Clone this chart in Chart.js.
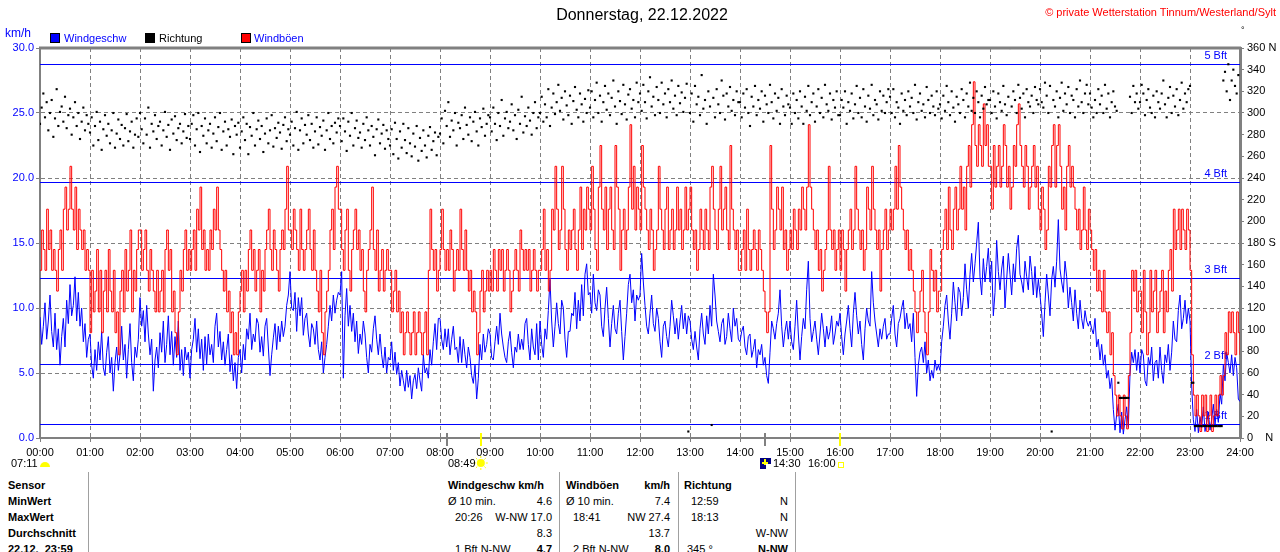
<!DOCTYPE html>
<html>
<head>
<meta charset="utf-8">
<script src="https://cdn.jsdelivr.net/npm/chart.js@4.4.0/dist/chart.umd.min.js"></script>
<style>
  body { margin: 0; width: 1280px; height: 552px; overflow: hidden; background: #fff;
         font-family: "Liberation Sans", Arial, sans-serif; }
  #wrap { position: absolute; left: 0; top: 0; width: 1280px; height: 470px; }
  .t { position: absolute; font-size: 11px; line-height: 14px; white-space: nowrap; transform: translateY(-50%); }
  .b { font-weight: bold; }
  .box { position: absolute; width: 8px; height: 8px; border: 1px solid #000; top: 33px; }
  .sep { position: absolute; top: 472px; width: 1px; height: 80px; background: #a0a0a0; }
</style>
</head>
<body>
<div id="wrap"><canvas id="windChart"></canvas></div>

<div class="t" style="left:0;width:1284px;text-align:center;top:15px;font-size:16px;line-height:18px">Donnerstag, 22.12.2022</div>
<div class="t" style="right:4px;top:12px;color:#ff0000">© private Wetterstation Tinnum/Westerland/Sylt</div>
<div class="t" style="left:1241px;top:30px;font-size:9px">°</div>
<div class="t" style="left:5px;top:33px;color:#0000ff;font-size:12px">km/h</div>

<div class="box" style="left:50px;background:#0000ff"></div>
<div class="t" style="left:64px;top:38px;color:#0000ff">Windgeschw</div>
<div class="box" style="left:145px;background:#000"></div>
<div class="t" style="left:159px;top:38px;color:#000">Richtung</div>
<div class="box" style="left:241px;background:#ff0000"></div>
<div class="t" style="left:254px;top:38px;color:#0000ff">Windböen</div>

<div class="t" style="left:11px;top:463px">07:11</div>
<div class="t" style="left:448px;top:463px">08:49</div>
<div class="t" style="left:773px;top:463px">14:30</div>
<div class="t" style="left:808px;top:463px">16:00</div>

<div class="sep" style="left:88px"></div>
<div class="sep" style="left:559px"></div>
<div class="sep" style="left:678px"></div>
<div class="sep" style="left:795px"></div>

<div class="t b" style="left:8px;top:485px">Sensor</div>
<div class="t b" style="left:8px;top:501px">MinWert</div>
<div class="t b" style="left:8px;top:517px">MaxWert</div>
<div class="t b" style="left:8px;top:533px">Durchschnitt</div>
<div class="t b" style="left:8px;top:549px">22.12.&nbsp; 23:59</div>

<div class="t b" style="left:448px;top:485px">Windgeschw km/h</div>
<div class="t" style="left:448px;top:501px">Ø 10 min.</div>
<div class="t" style="right:728px;top:501px">4.6</div>
<div class="t" style="left:455px;top:517px">20:26</div>
<div class="t" style="right:728px;top:517px">W-NW 17.0</div>
<div class="t" style="right:728px;top:533px">8.3</div>
<div class="t" style="left:455px;top:549px">1 Bft N-NW</div>
<div class="t b" style="right:728px;top:549px">4.7</div>

<div class="t b" style="left:566px;top:485px">Windböen</div>
<div class="t b" style="right:610px;top:485px">km/h</div>
<div class="t" style="left:566px;top:501px">Ø 10 min.</div>
<div class="t" style="right:610px;top:501px">7.4</div>
<div class="t" style="left:573px;top:517px">18:41</div>
<div class="t" style="right:610px;top:517px">NW 27.4</div>
<div class="t" style="right:610px;top:533px">13.7</div>
<div class="t" style="left:573px;top:549px">2 Bft N-NW</div>
<div class="t b" style="right:610px;top:549px">8.0</div>

<div class="t b" style="left:684px;top:485px">Richtung</div>
<div class="t" style="left:691px;top:501px">12:59</div>
<div class="t" style="right:492px;top:501px">N</div>
<div class="t" style="left:691px;top:517px">18:13</div>
<div class="t" style="right:492px;top:517px">N</div>
<div class="t" style="right:492px;top:533px">W-NW</div>
<div class="t" style="left:687px;top:549px">345 °</div>
<div class="t b" style="right:492px;top:549px">N-NW</div>

<script>
// one value every 2 minutes, 00:00 .. 24:00 (30 per hour)
const minuteStep = 2;

const speedValues = [
  9.3, 7.2, 8.6, 10.4, 7.6, 9.0, 11.0, 8.2, 7.0, 9.6, 6.8, 8.4, 5.6, 7.8, 9.2, 7.0, 10.6, 8.8, 11.8, 9.4, 10.2, 12.4, 9.0, 11.2, 8.6, 10.0, 7.4, 8.8, 6.2, 7.6, // 00
  8.0, 5.6, 4.6, 6.8, 5.2, 7.4, 6.0, 8.2, 5.4, 4.8, 6.6, 7.8, 5.0, 6.2, 3.6, 5.8, 7.0, 5.2, 6.4, 8.6, 6.0, 7.2, 4.6, 6.8, 8.8, 5.8, 4.4, 7.0, 6.2, 7.6,     // 01
  10.8, 8.6, 9.8, 7.4, 10.2, 8.0, 6.4, 7.6, 3.6, 6.0, 7.0, 5.4, 8.1, 6.6, 9.0, 5.8, 7.2, 9.4, 6.4, 8.2, 5.6, 7.8, 6.2, 9.0, 5.2, 6.8, 4.8, 7.0, 6.0, 6.6,  // 02
  4.6, 6.8, 7.6, 9.2, 6.6, 8.4, 6.1, 7.6, 5.2, 7.8, 5.7, 8.0, 6.4, 7.2, 5.8, 8.6, 9.6, 7.0, 8.2, 6.0, 7.4, 5.6, 6.8, 8.0, 5.1, 6.4, 4.4, 5.8, 3.8, 6.2,     // 03
  6.8, 5.0, 7.2, 6.0, 8.4, 7.6, 9.6, 6.8, 8.0, 7.4, 9.2, 8.8, 6.6, 7.8, 6.3, 8.6, 9.2, 7.0, 4.8, 6.4, 7.7, 8.8, 6.8, 8.6, 7.4, 9.0, 7.8, 8.6, 10.2, 11.0,   // 04
  12.8, 10.0, 9.8, 11.2, 8.2, 10.8, 9.4, 10.8, 7.9, 9.2, 9.6, 8.0, 7.0, 8.8, 8.4, 7.2, 9.0, 6.8, 6.0, 7.4, 5.0, 6.2, 7.2, 8.6, 10.2, 9.0, 11.0, 9.6, 10.6, 11.2, // 05
  11.0, 12.8, 4.6, 9.4, 11.5, 8.6, 10.2, 8.2, 9.6, 7.4, 9.0, 6.5, 8.0, 7.2, 9.0, 8.0, 6.2, 5.0, 7.2, 6.6, 8.4, 9.4, 7.6, 6.4, 8.0, 6.4, 5.4, 7.0, 5.0, 6.2, // 06
  6.0, 7.4, 5.2, 6.6, 4.9, 5.8, 4.0, 5.2, 4.4, 3.6, 5.2, 3.9, 4.8, 3.0, 4.4, 4.9, 3.8, 5.4, 4.4, 3.6, 6.4, 5.0, 5.4, 4.6, 6.8, 5.6, 7.4, 8.8, 6.8, 9.2,     // 07
  9.2, 7.6, 6.8, 8.4, 7.0, 8.4, 6.4, 7.6, 8.6, 6.8, 7.0, 5.8, 7.8, 5.8, 7.6, 6.4, 5.4, 7.0, 6.2, 4.8, 4.2, 5.6, 3.0, 4.6, 7.2, 6.0, 8.0, 6.6, 7.2, 8.4,     // 08
  8.0, 6.2, 6.0, 7.4, 8.6, 7.2, 9.6, 8.0, 7.0, 6.2, 5.8, 7.4, 8.2, 6.6, 5.4, 7.0, 6.6, 8.0, 6.8, 7.6, 6.8, 8.8, 9.2, 7.2, 6.0, 8.4, 7.0, 6.4, 8.8, 6.0,     // 09
  9.0, 7.2, 6.2, 8.4, 7.6, 9.8, 12.2, 9.0, 7.0, 8.6, 10.4, 8.8, 8.0, 10.6, 10.0, 7.6, 6.2, 8.2, 8.2, 9.6, 9.4, 11.2, 8.4, 10.6, 9.0, 11.8, 9.4, 12.6, 13.4, 11.0, // 10
  11.2, 9.6, 12.6, 10.4, 9.8, 11.4, 11.0, 8.6, 7.8, 10.0, 11.6, 9.2, 7.0, 8.8, 10.2, 8.4, 8.0, 9.6, 10.6, 8.2, 6.0, 7.8, 9.6, 11.8, 12.6, 10.4, 11.4, 9.0, 11.0, 10.6, // 11
  11.0, 14.2, 12.0, 10.2, 8.6, 8.0, 9.6, 11.0, 8.8, 8.2, 10.0, 9.2, 7.4, 6.2, 8.6, 9.0, 7.8, 7.0, 8.6, 10.6, 9.4, 8.0, 9.2, 7.6, 9.0, 10.2, 8.4, 9.6, 8.0, 9.4, // 12
  9.0, 7.6, 6.8, 8.2, 7.0, 6.0, 8.4, 9.6, 8.0, 7.2, 9.4, 8.0, 10.2, 8.6, 12.6, 11.0, 9.0, 8.2, 7.4, 8.8, 9.2, 7.2, 7.8, 9.6, 8.4, 7.4, 10.0, 8.6, 9.2, 7.6, // 13
  7.4, 8.2, 8.6, 7.0, 6.4, 7.8, 8.0, 6.2, 6.8, 7.6, 5.4, 6.8, 6.4, 7.2, 5.6, 6.2, 4.8, 4.2, 6.6, 9.0, 8.4, 7.6, 8.8, 9.6, 11.4, 8.6, 7.0, 8.2, 9.0, 7.6,     // 14
  9.0, 7.4, 6.8, 8.6, 10.6, 8.0, 6.0, 7.8, 9.2, 8.4, 11.4, 13.6, 9.2, 7.4, 8.2, 9.0, 7.6, 6.4, 8.0, 9.6, 8.4, 7.0, 8.6, 7.6, 8.2, 9.4, 7.2, 8.0, 9.0, 8.6,  // 15
  9.6, 7.8, 6.4, 8.0, 9.0, 10.2, 8.4, 7.0, 9.6, 11.2, 9.4, 8.0, 9.0, 7.2, 6.0, 8.4, 10.0, 9.0, 8.6, 12.8, 10.4, 9.0, 8.0, 7.0, 8.4, 7.6, 8.6, 9.2, 7.6, 8.0, // 16
  8.0, 9.2, 10.2, 8.0, 7.0, 8.8, 9.2, 10.0, 10.6, 8.4, 9.6, 8.4, 8.8, 7.4, 9.6, 6.2, 3.2, 5.6, 6.6, 7.0, 5.8, 7.4, 5.0, 6.0, 4.4, 5.2, 4.6, 6.0, 5.2, 5.6,  // 17
  5.2, 7.4, 8.6, 10.2, 11.0, 9.0, 7.6, 9.6, 12.0, 10.4, 9.0, 11.6, 11.2, 9.4, 10.8, 13.4, 11.4, 10.0, 12.6, 14.2, 12.0, 13.4, 15.0, 16.6, 12.4, 11.0, 13.8, 12.0, 13.2, 14.6, // 18
  12.0, 13.6, 9.4, 11.2, 15.2, 12.8, 11.4, 13.0, 14.0, 10.0, 12.2, 14.2, 12.6, 11.0, 13.4, 12.0, 14.6, 15.6, 12.6, 12.0, 11.2, 13.6, 12.4, 11.4, 14.0, 12.8, 11.0, 13.2, 10.8, 12.2, // 19
  11.0, 9.6, 7.8, 10.4, 12.6, 11.0, 9.4, 12.2, 13.2, 11.6, 13.6, 16.8, 13.0, 12.0, 11.2, 13.6, 12.4, 10.0, 11.6, 10.4, 9.0, 11.4, 9.6, 8.4, 10.6, 9.2, 8.4, 9.8, 9.0, 8.6, // 20
  9.0, 8.4, 8.0, 9.2, 7.0, 7.6, 6.0, 7.2, 5.6, 6.4, 4.6, 5.2, 3.8, 4.6, 2.2, 0.6, 1.8, 2.6, 0.4, 2.0, 0.3, 1.4, 2.4, 0.8, 4.9, 6.6, 5.8, 6.8, 5.2, 6.6,     // 21
  5.0, 6.8, 6.4, 4.4, 4.0, 6.2, 5.6, 7.0, 4.4, 5.8, 6.0, 4.6, 7.0, 5.2, 4.2, 6.4, 5.8, 7.2, 5.2, 6.6, 9.0, 7.6, 7.4, 9.8, 11.0, 8.4, 9.2, 10.6, 8.8, 10.0,   // 22
  9.0, 4.0, 1.4, 0.5, 2.2, 0.4, 1.6, 0.8, 2.4, 0.5, 1.2, 2.0, 0.6, 1.4, 2.6, 1.0, 2.2, 1.2, 3.4, 2.6, 5.6, 4.4, 6.6, 5.8, 5.0, 6.4, 4.8, 6.2, 5.4, 3.0,     // 23
  2.8
];

const gustValues = [
  12.9, 16.0, 14.5, 12.9, 17.6, 14.5, 16.0, 12.9, 14.5, 12.9, 11.3, 14.5, 16.0, 12.9, 17.6, 19.3, 16.0, 17.6, 20.9, 17.6, 16.0, 19.3, 14.5, 17.6, 16.0, 14.5, 16.0, 12.9, 14.5, 12.9, // 00
  8.1, 12.9, 9.7, 11.3, 14.5, 9.7, 12.9, 8.1, 11.3, 12.9, 9.7, 14.5, 11.3, 9.7, 12.9, 8.1, 9.7, 6.4, 11.3, 12.9, 9.7, 14.5, 11.3, 12.9, 16.0, 9.7, 12.9, 11.3, 14.5, 16.0,          // 01
  16.0, 12.9, 14.5, 16.0, 12.9, 11.3, 14.5, 12.9, 11.3, 9.7, 12.9, 9.7, 11.3, 12.9, 9.7, 14.5, 16.0, 12.9, 14.5, 9.7, 11.3, 8.1, 6.4, 9.7, 12.9, 11.3, 14.5, 16.0, 12.9, 14.5,     // 02
  12.9, 14.5, 16.0, 12.9, 17.6, 16.0, 19.3, 14.5, 16.0, 12.9, 14.5, 12.9, 16.0, 14.5, 17.6, 16.0, 19.3, 16.0, 14.5, 12.9, 11.3, 12.9, 9.7, 11.3, 8.1, 9.7, 6.4, 8.1, 6.4, 9.7,     // 03
  11.3, 12.9, 9.7, 12.9, 11.3, 14.5, 16.0, 12.9, 14.5, 11.3, 12.9, 14.5, 9.7, 12.9, 11.3, 14.5, 16.0, 17.6, 14.5, 12.9, 16.0, 14.5, 12.9, 11.3, 14.5, 16.0, 14.5, 17.6, 20.9, 16.0, // 04
  16.0, 14.5, 17.6, 16.0, 14.5, 12.9, 17.6, 14.5, 12.9, 14.5, 16.0, 17.6, 14.5, 12.9, 16.0, 12.9, 11.3, 9.7, 12.9, 8.1, 6.4, 9.7, 11.3, 12.9, 16.0, 17.6, 14.5, 19.3, 20.9, 17.6, // 05
  17.6, 14.5, 12.9, 16.0, 17.6, 12.9, 11.3, 14.5, 16.0, 17.6, 14.5, 16.0, 12.9, 14.5, 11.3, 9.7, 12.9, 14.5, 16.0, 19.3, 14.5, 12.9, 16.0, 11.3, 12.9, 14.5, 11.3, 12.9, 14.5, 12.9, // 06
  12.9, 9.7, 11.3, 12.9, 9.7, 11.3, 8.1, 9.7, 6.4, 8.1, 9.7, 8.1, 6.4, 8.1, 9.7, 6.4, 8.1, 9.7, 8.1, 6.4, 8.1, 9.7, 6.4, 12.9, 17.6, 14.5, 12.9, 14.5, 11.3, 12.9,               // 07
  14.5, 17.6, 14.5, 12.9, 14.5, 12.9, 16.0, 14.5, 11.3, 12.9, 14.5, 12.9, 17.6, 14.5, 12.9, 16.0, 12.9, 11.3, 12.9, 9.7, 11.3, 9.7, 6.4, 8.1, 11.3, 12.9, 9.7, 11.3, 12.9, 11.3,   // 08
  12.9, 11.3, 14.5, 12.9, 11.3, 14.5, 12.9, 14.5, 11.3, 12.9, 14.5, 12.9, 9.7, 11.3, 12.9, 14.5, 12.9, 11.3, 16.0, 14.5, 12.9, 14.5, 12.9, 14.5, 11.3, 12.9, 14.5, 12.9, 11.3, 12.9, // 09
  12.9, 14.5, 17.6, 12.9, 14.5, 11.3, 12.9, 17.6, 16.0, 20.9, 17.6, 14.5, 16.0, 20.9, 17.6, 14.5, 12.9, 16.0, 14.5, 16.0, 17.6, 14.5, 12.9, 16.0, 19.3, 14.5, 17.6, 16.0, 19.3, 17.6, // 10
  16.0, 20.9, 17.6, 14.5, 12.9, 19.3, 22.5, 17.6, 16.0, 19.3, 14.5, 17.6, 19.3, 16.0, 14.5, 22.5, 19.3, 17.6, 12.9, 16.0, 17.6, 14.5, 16.0, 19.3, 24.1, 17.6, 20.9, 16.0, 19.3, 17.6, // 11
  16.0, 22.5, 19.3, 17.6, 16.0, 14.5, 17.6, 16.0, 12.9, 14.5, 16.0, 20.9, 17.6, 16.0, 14.5, 17.6, 19.3, 14.5, 16.0, 17.6, 14.5, 16.0, 19.3, 16.0, 17.6, 14.5, 16.0, 19.3, 16.0, 17.6, // 12
  19.3, 16.0, 14.5, 16.0, 12.9, 14.5, 17.6, 16.0, 14.5, 17.6, 16.0, 14.5, 19.3, 20.9, 17.6, 16.0, 14.5, 17.6, 20.9, 16.0, 17.6, 19.3, 16.0, 14.5, 22.5, 17.6, 16.0, 14.5, 16.0, 12.9, // 13
  12.9, 14.5, 16.0, 12.9, 17.6, 14.5, 12.9, 14.5, 16.0, 14.5, 12.9, 16.0, 14.5, 12.9, 11.3, 9.7, 8.1, 9.7, 22.5, 17.6, 14.5, 16.0, 19.3, 17.6, 16.0, 19.3, 14.5, 16.0, 12.9, 14.5,  // 14
  16.0, 14.5, 17.6, 16.0, 14.5, 17.6, 16.0, 19.3, 17.6, 16.0, 19.3, 24.1, 19.3, 17.6, 16.0, 14.5, 16.0, 12.9, 14.5, 11.3, 12.9, 14.5, 16.0, 20.9, 16.0, 14.5, 16.0, 12.9, 14.5, 16.0, // 15
  12.9, 16.0, 14.5, 11.3, 14.5, 16.0, 17.6, 14.5, 16.0, 20.9, 17.6, 16.0, 14.5, 16.0, 12.9, 14.5, 19.3, 17.6, 16.0, 20.9, 17.6, 16.0, 14.5, 16.0, 11.3, 14.5, 16.0, 17.6, 14.5, 16.0, // 16
  17.6, 16.0, 17.6, 20.9, 17.6, 22.5, 19.3, 17.6, 16.0, 14.5, 16.0, 12.9, 14.5, 12.9, 11.3, 9.7, 8.1, 9.7, 11.3, 12.9, 9.7, 8.1, 6.4, 9.7, 14.5, 12.9, 11.3, 12.9, 9.7, 11.3,      // 17
  11.3, 14.5, 16.0, 17.6, 14.5, 19.3, 16.0, 14.5, 17.6, 19.3, 16.0, 17.6, 20.9, 17.6, 19.3, 16.0, 20.9, 22.5, 19.3, 24.1, 27.4, 22.5, 20.9, 24.1, 22.5, 20.9, 25.7, 22.5, 24.1, 20.9, // 18
  20.9, 17.6, 22.5, 19.3, 20.9, 22.5, 19.3, 20.9, 24.1, 22.5, 19.3, 20.9, 17.6, 19.3, 22.5, 20.9, 24.1, 25.7, 22.5, 20.9, 19.3, 22.5, 20.9, 17.6, 19.3, 20.9, 22.5, 19.3, 20.9, 17.6, // 19
  16.0, 19.3, 17.6, 14.5, 16.0, 20.9, 19.3, 22.5, 24.1, 19.3, 22.5, 24.1, 20.9, 17.6, 19.3, 16.0, 20.9, 22.5, 19.3, 20.9, 19.3, 17.6, 16.0, 17.6, 14.5, 16.0, 19.3, 16.0, 14.5, 17.6, // 20
  16.0, 14.5, 12.9, 14.5, 11.3, 12.9, 11.3, 9.7, 12.9, 9.7, 8.1, 9.7, 6.4, 8.1, 4.8, 3.3, 1.7, 3.3, 1.7, 0.7, 3.3, 1.7, 0.7, 4.8, 8.1, 12.9, 11.3, 12.9, 9.7, 11.3,              // 21
  11.3, 8.1, 12.9, 9.7, 6.4, 8.1, 12.9, 9.7, 11.3, 12.9, 8.1, 9.7, 11.3, 12.9, 8.1, 11.3, 9.7, 12.9, 14.5, 11.3, 17.6, 14.5, 16.0, 17.6, 14.5, 17.6, 16.0, 14.5, 17.6, 16.0,      // 22
  12.9, 6.4, 3.3, 1.7, 3.3, 1.7, 0.5, 3.3, 1.7, 3.3, 0.5, 1.7, 3.3, 0.5, 1.7, 3.3, 1.7, 3.3, 4.8, 3.3, 4.8, 8.1, 6.4, 9.7, 8.1, 9.7, 8.1, 6.4, 9.7, 8.1,                       // 23
  6.4
];

// wind direction in degrees, null = no reading
const dirValues = [
  290, 305, 318, 296, 310, 284, 300, 312, 278, 295, 322, 288, 301, 306, 292, 315, 286, 298, 304, 280, 296, 310, 288, 300, 276, 292, 305, 284, 298, 290, // 00
  282, 296, 270, 288, 301, 275, 292, 266, 285, 298, 279, 290, 272, 284, 300, 268, 281, 294, 276, 289, 270, 286, 299, 274, 283, 292, 268, 280, 295, 278, // 01
  300, 285, 272, 295, 280, 305, 268, 290, 283, 298, 276, 288, 292, 270, 284, 301, 278, 289, 266, 294, 281, 297, 275, 286, 290, 272, 283, 299, 277, 288, // 02
  276, 290, 298, 270, 285, 300, 264, 288, 279, 295, 272, 284, 290, 268, 281, 296, 274, 287, 300, 266, 283, 292, 270, 285, 278, 294, 262, 288, 280, 291, // 03
  268, 283, 296, 275, 290, 262, 287, 279, 300, 270, 285, 293, 276, 288, 264, 281, 295, 272, 284, 298, 269, 286, 277, 291, 282, 267, 289, 296, 274, 285, // 04
  280, 292, 270, 286, 301, 266, 284, 295, 272, 289, 280, 298, 275, 290, 268, 283, 296, 271, 287, 279, 293, 266, 284, 300, 276, 288, 272, 291, 282, 295, // 05
  288, 274, 295, 283, 265, 292, 279, 300, 270, 286, 293, 277, 282, 268, 290, 275, 296, 284, 270, 288, 278, 261, 285, 294, 272, 281, 289, 267, 284, 276, // 06
  270, 285, 262, 291, 276, 258, 283, 268, 290, 275, 263, 286, 272, 260, 281, 269, 288, 256, 277, 265, 284, 270, 259, 279, 287, 266, 274, 282, 261, 278, // 07
  281, 295, 272, 302, 288, 310, 278, 293, 284, 300, 270, 291, 286, 298, 276, 305, 289, 280, 296, 274, 292, 301, 283, 270, 295, 287, 304, 279, 290, 298, // 08
  296, 283, 305, 290, 275, 300, 288, 312, 279, 295, 301, 286, 292, 308, 284, 298, 276, 303, 290, 315, 282, 297, 288, 305, 293, 280, 300, 310, 286, 296, // 09
  300, 315, 292, 308, 296, 322, 288, 305, 318, 299, 310, 326, 302, 314, 294, 320, 307, 298, 316, 290, 311, 324, 303, 296, 318, 308, 292, 313, 300, 321, // 10
  305, 320, 296, 312, 328, 300, 316, 292, 310, 325, 303, 318, 298, 314, 330, 306, 290, 320, 311, 299, 326, 308, 294, 317, 322, 304, 312, 296, 328, 310, // 11
  318, 302, 326, 310, 295, 320, 333, 306, 315, 298, 324, 312, 300, 328, 308, 318, 296, 322, 310, 330, 304, 316, 298, 325, 309, 319, 301, 314, 327, 6,   // 12
  300, 318, 292, 325, 308, 315, 298, 335, 304, 312, 290, 320, 306, 12, 314, 296, 322, 308, 300, 330, 316, 294, 318, 306, 324, 302, 312, 298, 320, 310,  // 13
  310, 296, 318, 305, 322, 300, 288, 315, 306, 325, 298, 312, 304, 320, 292, 316, 308, 300, 326, 310, 295, 318, 302, 314, 290, 322, 306, 298, 316, 308, // 14
  305, 290, 318, 300, 312, 295, 320, 306, 290, 315, 302, 325, 298, 310, 318, 292, 306, 322, 300, 314, 296, 326, 308, 302, 318, 294, 312, 305, 320, 298, // 15
  298, 312, 305, 320, 290, 310, 302, 318, 295, 308, 325, 300, 314, 296, 322, 306, 292, 316, 304, 326, 298, 312, 308, 294, 320, 302, 316, 300, 310, 322, // 16
  315, 300, 322, 296, 310, 305, 290, 318, 302, 312, 298, 320, 306, 314, 300, 326, 294, 310, 318, 302, 308, 296, 324, 312, 300, 316, 306, 298, 320, 304, // 17
  308, 295, 316, 302, 325, 310, 298, 320, 305, 292, 315, 308, 300, 322, 312, 296, 318, 306, 328, 302, 314, 300, 320, 310, 296, 316, 304, 324, 308, 312, // 18
  312, 300, 320, 306, 295, 318, 310, 302, 325, 308, 298, 315, 360, 306, 320, 312, 300, 326, 314, 304, 318, 296, 322, 310, 306, 316, 300, 324, 312, 308, // 19
  322, 310, 305, 328, 316, 300, 325, 6, 312, 306, 320, 296, 314, 328, 302, 318, 308, 324, 300, 316, 312, 296, 322, 306, 330, 310, 300, 318, 326, 308,   // 20
  318, 305, 296, 312, 300, 322, 308, 316, 300, 326, 304, 318, 296, 310, 320, 306, 302, 51, 37, 37, 37, 37, 37, 37, 315, 300, 325, 310, 318, 304,         // 21
  310, 326, 318, 298, 312, 322, 305, 300, 316, 296, 320, 310, 304, 318, 330, 308, 296, 314, 324, 300, 316, 306, 322, 298, 312, 328, 304, 318, 310, 322, // 22
  325, 51, 51, 11, 11, 11, 11, 11, 11, 11, 11, 11, 11, 11, 11, 11, 11, 11, 11, 11, 330, 338, 320, 345, 312, 330, 340, 325, 318, 335,                    // 23
  null
];

const hourLabels = ['00:00','01:00','02:00','03:00','04:00','05:00','06:00','07:00','08:00',
  '09:00','10:00','11:00','12:00','13:00','14:00','15:00','16:00','17:00','18:00','19:00',
  '20:00','21:00','22:00','23:00','24:00'];

const bftLevels = [1.1, 5.7, 12.3, 19.7, 28.8];
const bftNames = ['1 Bft', '2 Bft', '3 Bft', '4 Bft', '5 Bft'];

// minutes of day: moon ticks (gray) and sunrise/sunset (yellow)
const markerMinutes = [488, 529, 870, 960];
const markerColors = ['#808080', '#ffff00', '#808080', '#ffff00'];

const toPoints = arr => arr.map((v, i) => ({ x: i * minuteStep, y: v }));

const FONT = '"Liberation Sans", Arial, sans-serif';
const GRID = '#808080';

// beaufort lines, top frame and the sun/moon marks under the axis
const extrasPlugin = {
  id: 'extras',
  beforeDatasetsDraw(chart) {
    const { ctx, chartArea: a, scales } = chart;
    ctx.save();
    ctx.font = '11px ' + FONT;
    ctx.textAlign = 'right';
    ctx.textBaseline = 'middle';
    ctx.fillStyle = '#0000ff';
    bftLevels.forEach((v, i) => {
      const py = Math.round(scales.y.getPixelForValue(v));
      ctx.fillRect(a.left, py, a.right - a.left, 1);
      ctx.fillText(bftNames[i], a.right - 13, py - 8);
    });
    ctx.restore();
  },
  afterDraw(chart) {
    const { ctx, chartArea: a, scales } = chart;
    ctx.save();
    ctx.setLineDash([]);
    ctx.strokeStyle = GRID;
    ctx.lineWidth = 3;
    ctx.beginPath();
    ctx.moveTo(a.left - 1, a.top);
    ctx.lineTo(a.right + 1, a.top);
    ctx.stroke();

    markerMinutes.forEach((m, i) => {
      const px = Math.round(scales.x.getPixelForValue(m));
      ctx.strokeStyle = markerColors[i];
      ctx.lineWidth = 2;
      ctx.beginPath();
      ctx.moveTo(px, a.bottom - 5);
      ctx.lineTo(px, a.bottom + 8);
      ctx.stroke();
    });

    // rising sun at the left
    ctx.fillStyle = '#ffff00';
    ctx.beginPath();
    ctx.arc(45, 467, 5, Math.PI, 0);
    ctx.fill();

    // sunrise sun
    const sx = scales.x.getPixelForValue(529), sy = 463;
    ctx.beginPath();
    ctx.arc(sx, sy, 4, 0, Math.PI * 2);
    ctx.fill();
    ctx.strokeStyle = '#ffff00';
    ctx.lineWidth = 1;
    for (let k = 0; k < 8; k++) {
      const ang = k * Math.PI / 4;
      ctx.beginPath();
      ctx.moveTo(sx + Math.cos(ang) * 5, sy + Math.sin(ang) * 5);
      ctx.lineTo(sx + Math.cos(ang) * 7, sy + Math.sin(ang) * 7);
      ctx.stroke();
    }

    // moon icon
    const mx = scales.x.getPixelForValue(870);
    ctx.fillStyle = '#000080';
    ctx.fillRect(mx - 5, 458, 11, 11);
    ctx.fillStyle = '#ffffff';
    ctx.fillRect(mx + 1, 464, 5, 5);
    ctx.fillStyle = '#ffff00';
    ctx.fillRect(mx - 1, 459, 2, 6);
    ctx.fillRect(mx - 3, 462, 6, 2);

    // sunset square
    ctx.strokeStyle = '#ffff00';
    ctx.strokeRect(838.5, 462.5, 5, 5);
    ctx.restore();
  }
};

new Chart(document.getElementById('windChart'), {
  type: 'line',
  data: {
    datasets: [
      {
        label: 'Richtung',
        data: toPoints(dirValues),
        yAxisID: 'dir',
        showLine: false,
        pointStyle: 'rect',
        pointRadius: 1.5,
        pointBorderWidth: 0,
        pointBackgroundColor: '#000',
        order: 0
      },
      {
        label: 'Windböen',
        data: toPoints(gustValues),
        yAxisID: 'y',
        borderColor: '#ff0000',
        borderWidth: 1,
        pointRadius: 0,
        stepped: true,
        order: 1
      },
      {
        label: 'Windgeschw',
        data: toPoints(speedValues),
        yAxisID: 'y',
        borderColor: '#0000ff',
        borderWidth: 1,
        pointRadius: 0,
        tension: 0,
        order: 2
      }
    ]
  },
  options: {
    responsive: true,
    maintainAspectRatio: false,
    animation: false,
    devicePixelRatio: 1,
    layout: { padding: { top: 48, left: 0, right: 0, bottom: 0 } },
    plugins: { legend: { display: false }, title: { display: false }, tooltip: { enabled: false } },
    scales: {
      x: {
        type: 'linear',
        min: 0,
        max: 1440,
        afterFit(s) { s.height = 32; },
        afterBuildTicks(s) { s.ticks = hourLabels.map((_, i) => ({ value: i * 60 })); },
        ticks: {
          autoSkip: false,
          maxRotation: 0,
          padding: 4,
          color: '#000',
          font: { family: FONT, size: 11 },
          callback: (v) => hourLabels[Math.round(v / 60)]
        },
        grid: { color: GRID, lineWidth: 1, tickLength: 4, tickColor: GRID, tickBorderDash: [] },
        border: { display: true, color: GRID, width: 2, dash: [4, 3] }
      },
      y: {
        position: 'left',
        min: 0,
        max: 30,
        afterFit(s) { s.width = 40; },
        ticks: {
          stepSize: 5,
          padding: 2,
          color: '#0000ff',
          font: { family: FONT, size: 11 },
          callback: (v) => v.toFixed(1)
        },
        grid: { color: GRID, lineWidth: 1, tickLength: 4, tickColor: GRID, tickBorderDash: [] },
        border: { display: true, color: GRID, width: 2, dash: [4, 3] }
      },
      dir: {
        position: 'right',
        min: 0,
        max: 360,
        afterFit(s) { s.width = 40; },
        ticks: {
          stepSize: 20,
          padding: 3,
          color: '#000',
          font: { family: FONT, size: 11 },
          callback: (v) => v === 0 ? '0    N' : v === 180 ? '180 S' : v === 360 ? '360 N' : String(v)
        },
        grid: { drawOnChartArea: false, tickLength: 4, tickColor: GRID },
        border: { display: true, color: GRID, width: 3 }
      }
    }
  },
  plugins: [extrasPlugin]
});
</script>
</body>
</html>
